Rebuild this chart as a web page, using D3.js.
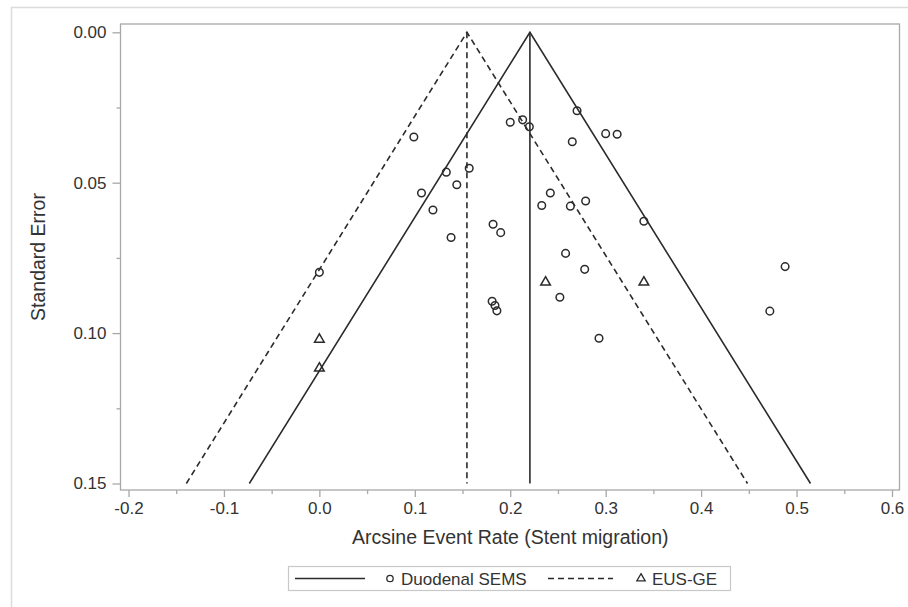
<!DOCTYPE html>
<html>
<head>
<meta charset="utf-8">
<script src="https://cdn.jsdelivr.net/npm/d3@7"></script>
<style>
  body { margin: 0; background: #fff; }
  text { font-family: "Liberation Sans", Arial, sans-serif; fill: #333; }
</style>
</head>
<body>
<div id="chart"></div>
<script>
// data
var seriesNames = ["Duodenal SEMS", "EUS-GE"];

// Duodenal SEMS studies (arcsine event rate, standard error)
var semsRate = [0.099, 0.133, 0.144, 0.157, 0.107, 0.119, 0.138, 0.182, 0.190,
                0.200, 0.213, 0.220, 0.270, 0.265, 0.300, 0.312, 0.242, 0.233,
                0.263, 0.279, 0.340, 0.258, 0.278, 0.252, 0.293, 0.181, 0.184,
                0.186, 0.000, 0.488, 0.472];
var semsSE   = [0.0348, 0.0465, 0.0507, 0.0452, 0.0534, 0.0591, 0.0682, 0.0638, 0.0666,
                0.0299, 0.0291, 0.0314, 0.0261, 0.0364, 0.0337, 0.0339, 0.0534, 0.0576,
                0.0578, 0.0561, 0.0628, 0.0735, 0.0788, 0.0881, 0.1017, 0.0894, 0.0908,
                0.0926, 0.0798, 0.0779, 0.0927];

// EUS-GE studies
var eusRate = [0.237, 0.340, 0.000, 0.000];
var eusSE   = [0.0831, 0.0831, 0.1021, 0.1117];

// pooled estimates (funnel centres) and max SE of the funnel
var pooled = [0.2206, 0.1546];
var seMax = 0.15;

var xTicks = [-0.2, -0.1, 0.0, 0.1, 0.2, 0.3, 0.4, 0.5, 0.6];
var yTicks = [0.00, 0.05, 0.10, 0.15];

var W = 908, H = 607;
var frame = { left: 120.5, right: 899.5, top: 24, bottom: 490 };

var svg = d3.select("#chart").append("svg")
    .attr("width", W)
    .attr("height", H);

// outer light border of the figure
svg.append("rect")
    .attr("x", 11.5).attr("y", 7.5)
    .attr("width", 1000).attr("height", 1000)
    .attr("fill", "none")
    .attr("stroke", "#dcdcdc")
    .attr("stroke-width", 1.5);

var x = d3.scaleLinear().domain([-0.2, 0.6]).range([128.5, 892]);
var y = d3.scaleLinear().domain([0, 0.15]).range([32.3, 483.5]);

// frame
svg.append("rect")
    .attr("x", frame.left).attr("y", frame.top)
    .attr("width", frame.right - frame.left)
    .attr("height", frame.bottom - frame.top)
    .attr("fill", "none")
    .attr("stroke", "#a8a8a8")
    .attr("stroke-width", 1.3);

var fmt1 = function(d) { return d3.format(".1f")(d).replace("\u2212", "-"); };

// x axis, major + minor ticks
var xAxis = svg.append("g")
    .attr("transform", "translate(0," + frame.bottom + ")")
    .call(d3.axisBottom(x).tickValues(xTicks).tickSize(7).tickSizeOuter(0)
          .tickPadding(5).tickFormat(fmt1));
var xMinor = svg.append("g")
    .attr("transform", "translate(0," + frame.bottom + ")")
    .call(d3.axisBottom(x).tickValues(xTicks.slice(1).map(function(d) { return d - 0.05; }))
          .tickSize(4).tickSizeOuter(0).tickFormat(""));

var yAxis = svg.append("g")
    .attr("transform", "translate(" + frame.left + ",0)")
    .call(d3.axisLeft(y).tickValues(yTicks).tickSize(8).tickSizeOuter(0)
          .tickPadding(6).tickFormat(d3.format(".2f")));
var yMinor = svg.append("g")
    .attr("transform", "translate(" + frame.left + ",0)")
    .call(d3.axisLeft(y).tickValues(yTicks.slice(1).map(function(d) { return d - 0.025; }))
          .tickSize(4).tickSizeOuter(0).tickFormat(""));

[xAxis, xMinor, yAxis, yMinor].forEach(function(g) {
  g.select(".domain").remove();
  g.selectAll(".tick line").attr("stroke", "#a8a8a8").attr("stroke-width", 1.3);
  g.selectAll(".tick text")
    .style("font-size", "17px")
    .style("font-family", "'Liberation Sans', Arial, sans-serif")
    .attr("fill", "#333");
});

// axis titles
svg.append("text")
    .attr("x", x(0.2))
    .attr("y", 544)
    .attr("text-anchor", "middle")
    .style("font-size", "19.5px")
    .text("Arcsine Event Rate (Stent migration)");

svg.append("text")
    .attr("transform", "translate(45," + ((frame.top + frame.bottom) / 2) + ") rotate(-90)")
    .attr("text-anchor", "middle")
    .style("font-size", "19.5px")
    .text("Standard Error");

// funnels
var dashes = [null, "6,4"];
var line = d3.line()
    .x(function(d) { return x(d[0]); })
    .y(function(d) { return y(d[1]); });

pooled.forEach(function(c, i) {
  var tri = [[c - 1.96 * seMax, seMax], [c, 0], [c + 1.96 * seMax, seMax]];
  svg.append("path")
      .attr("d", line(tri))
      .attr("fill", "none")
      .attr("stroke", "#2b2b2b")
      .attr("stroke-width", 1.6)
      .attr("stroke-dasharray", dashes[i]);
  svg.append("path")
      .attr("d", line([[c, 0], [c, seMax]]))
      .attr("fill", "none")
      .attr("stroke", "#2b2b2b")
      .attr("stroke-width", 1.6)
      .attr("stroke-dasharray", dashes[i]);
});

// points
var sems = semsRate.map(function(r, i) { return { rate: r, se: semsSE[i] }; });
var eus = eusRate.map(function(r, i) { return { rate: r, se: eusSE[i] }; });

svg.selectAll(".sems")
    .data(sems)
    .enter().append("circle")
    .attr("class", "sems")
    .attr("cx", function(d) { return x(d.rate); })
    .attr("cy", function(d) { return y(d.se); })
    .attr("r", 3.8)
    .attr("fill", "none")
    .attr("stroke", "#2b2b2b")
    .attr("stroke-width", 1.5);

var triSym = d3.symbol().type(d3.symbolTriangle).size(40);
svg.selectAll(".eus")
    .data(eus)
    .enter().append("path")
    .attr("class", "eus")
    .attr("d", triSym)
    .attr("transform", function(d) { return "translate(" + x(d.rate) + "," + y(d.se) + ")"; })
    .attr("fill", "none")
    .attr("stroke", "#2b2b2b")
    .attr("stroke-width", 1.5);

// legend
var leg = svg.append("g");
leg.append("rect")
    .attr("x", 288.5).attr("y", 566.5)
    .attr("width", 442).attr("height", 24)
    .attr("fill", "none")
    .attr("stroke", "#c8c8c8")
    .attr("stroke-width", 1.2);
var ly = 578.5;
leg.append("line").attr("x1", 295).attr("x2", 365).attr("y1", ly).attr("y2", ly)
    .attr("stroke", "#2b2b2b").attr("stroke-width", 1.6);
leg.append("circle").attr("cx", 390).attr("cy", ly).attr("r", 3.2)
    .attr("fill", "none").attr("stroke", "#2b2b2b").attr("stroke-width", 1.3);
leg.append("text").attr("x", 401).attr("y", ly + 6).style("font-size", "17px").text(seriesNames[0]);
leg.append("line").attr("x1", 548).attr("x2", 613).attr("y1", ly).attr("y2", ly)
    .attr("stroke", "#2b2b2b").attr("stroke-width", 1.6).attr("stroke-dasharray", "6,4");
leg.append("path").attr("d", d3.symbol().type(d3.symbolTriangle).size(30))
    .attr("transform", "translate(641," + ly + ")")
    .attr("fill", "none").attr("stroke", "#2b2b2b").attr("stroke-width", 1.3);
leg.append("text").attr("x", 652).attr("y", ly + 6).style("font-size", "17px").text(seriesNames[1]);
</script>
</body>
</html>
